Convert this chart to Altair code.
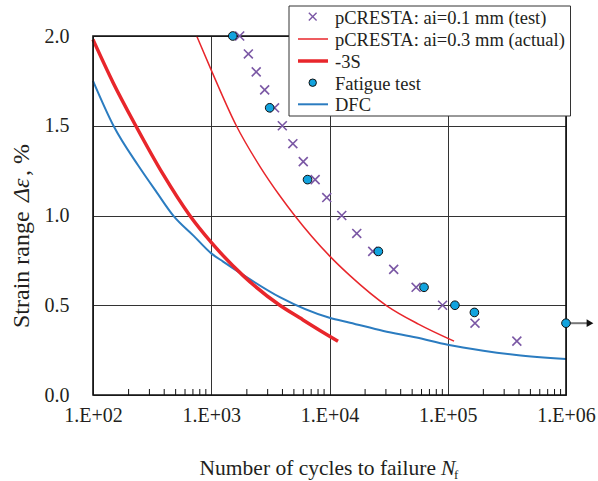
import altair as alt
import pandas as pd

# ---------------- data ----------------
test_n = [1740, 2060, 2400, 2830, 3430, 3990, 4900, 6000, 7560, 9480, 12700,
          17000, 23200, 34900, 54000, 90400, 170000, 384000]
test_e = [2.0, 1.9, 1.8, 1.7, 1.6, 1.5, 1.4, 1.3, 1.2, 1.1, 1.0,
          0.9, 0.8, 0.7, 0.6, 0.5, 0.4, 0.3]

actual_n = [753, 1000, 1630, 2600, 3800, 5070, 10000, 14900, 30500, 56500, 113000]
actual_e = [2.0, 1.81, 1.5, 1.27, 1.11, 1.0, 0.775, 0.665, 0.497, 0.395, 0.30]

s3_n = [100, 148, 230, 391, 658, 1000, 1860, 3800, 5600, 8300, 11800]
s3_e = [1.98, 1.74, 1.5, 1.23, 1.0, 0.85, 0.665, 0.5, 0.43, 0.36, 0.30]

fat_n = [1520, 3120, 6520, 25900, 63000, 115000, 168000, 1000000]
fat_e = [2.0, 1.6, 1.2, 0.8, 0.6, 0.5, 0.46, 0.4]

dfc_n = [100, 149, 242, 346, 479, 707, 1000, 1260, 1860, 3800, 10000, 14900,
         28600, 54400, 100000, 200000, 380000, 1000000]
dfc_e = [1.75, 1.5, 1.277, 1.129, 0.998, 0.888, 0.789, 0.743, 0.669, 0.545, 0.43,
         0.403, 0.357, 0.32, 0.28, 0.247, 0.223, 0.2]

runout_n = [1000000]
runout_e = [0.4]

x_major = [100, 1000, 10000, 100000, 1000000]
x_minor = [m * d for d in [100, 1000, 10000, 100000] for m in range(2, 10)]
y_ticks = [0.0, 0.5, 1.0, 1.5, 2.0]

legend_labels = ["pCRESTA: ai=0.1 mm (test)", "pCRESTA: ai=0.3 mm (actual)",
                 "-3S", "Fatigue test", "DFC"]

# ---------------- styling ----------------
W, H = 473, 359
FONT = "Liberation Serif, Times New Roman, serif"
TXT = "#231F20"
RED = "#E8262B"
BLUE = "#2B7CC0"
PURPLE = "#7B58A5"
CYAN = "#12A3DE"
CROSS = "M-1,-1L1,1M-1,1L1,-1"

xscale = alt.Scale(type="log", domain=[100, 1000000])
yscale = alt.Scale(domain=[0, 2])
xaxis = alt.Axis(values=x_major, grid=True, gridColor="#333333", gridWidth=1,
                 domain=False, ticks=False, tickSize=0, labelPadding=10,
                 labelFlush=False, labelOverlap=False,
                 labelExpr="'1.E+0' + round(log(datum.value) / LN10)",
                 labelFont=FONT, labelFontSize=20, labelColor=TXT, title="")
yaxis = alt.Axis(values=y_ticks, grid=True, gridColor="#333333", gridWidth=1,
                 domain=False, ticks=False, tickSize=0, labelPadding=24,
                 format=".1f", labelFont=FONT, labelFontSize=20, labelColor=TXT,
                 title="")

X = alt.X("n:Q", scale=xscale, axis=xaxis)
Y = alt.Y("e:Q", scale=yscale, axis=yaxis)


def df(n, e):
    return pd.DataFrame({"n": n, "e": e})


def line(n, e, color, width):
    return alt.Chart(df(n, e)).mark_line(color=color, strokeWidth=width,
                                         interpolate="monotone").encode(x=X, y=Y)


frame = alt.Chart(df([100], [0])).mark_rect(
    fill="transparent", stroke="#111", strokeWidth=1.6
).encode(x=alt.value(0), x2=alt.value(W), y=alt.value(0), y2=alt.value(H))

minor = alt.Chart(pd.DataFrame({"n": x_minor})).mark_rule(
    color="#111", strokeWidth=1
).encode(x=X, y=alt.value(H), y2=alt.value(H - 6))

l_actual = line(actual_n, actual_e, RED, 1.5)
l_s3 = line(s3_n, s3_e, RED, 3.5)
l_dfc = line(dfc_n, dfc_e, BLUE, 2)

crosses = alt.Chart(df(test_n, test_e)).mark_point(
    shape=CROSS, size=80, filled=False, color=PURPLE, strokeWidth=1.6, opacity=1
).encode(x=X, y=Y)

arrow_line = alt.Chart(df(runout_n, runout_e)).mark_rule(
    color="#777", strokeWidth=2
).encode(x=X, x2=alt.value(W + 21), y=Y)
arrow_head = alt.Chart(df(runout_n, runout_e)).mark_point(
    shape="triangle-right", size=60, filled=True, color="#111", opacity=1
).encode(x=alt.value(W + 24), y=Y)

circles = alt.Chart(df(fat_n, fat_e)).mark_point(
    shape="circle", size=75, filled=True, fill=CYAN, stroke="#111",
    strokeWidth=1, opacity=1
).encode(x=X, y=Y)

# ---------------- legend ----------------
LX0, LX1, LY0, LY1 = 196, 477.5, -30, 80
rows = [-19.3, 3, 25, 46.7, 68.3]
anchor = df([100], [0])

leg_box = alt.Chart(anchor).mark_rect(
    fill="white", stroke="#333", strokeWidth=1
).encode(x=alt.value(LX0), x2=alt.value(LX1), y=alt.value(LY0), y2=alt.value(LY1))

leg_layers = [leg_box]
leg_layers.append(alt.Chart(anchor).mark_point(
    shape=CROSS, size=60, filled=False, color=PURPLE, strokeWidth=1.4, opacity=1
).encode(x=alt.value(219.7), y=alt.value(rows[0])))
for r, (col, wdt) in zip([1, 2, 4], [(RED, 1.5), (RED, 3.5), (BLUE, 2)]):
    leg_layers.append(alt.Chart(anchor).mark_rule(color=col, strokeWidth=wdt).encode(
        x=alt.value(205), x2=alt.value(235), y=alt.value(rows[r])))
leg_layers.append(alt.Chart(anchor).mark_point(
    shape="circle", size=55, filled=True, fill=CYAN, stroke="#111",
    strokeWidth=1, opacity=1
).encode(x=alt.value(219.7), y=alt.value(rows[3])))
for lab, r in zip(legend_labels, rows):
    leg_layers.append(alt.Chart(anchor).mark_text(
        text=lab, font=FONT, fontSize=18.5, color=TXT, align="left", baseline="middle"
    ).encode(x=alt.value(242), y=alt.value(r + 1)))

# ---------------- titles ----------------
def txt(s, x, y, size=21, style="normal", align="left", angle=0, baseline="alphabetic"):
    return alt.Chart(anchor).mark_text(
        text=s, font=FONT, fontSize=size, fontStyle=style, color=TXT,
        align=align, angle=angle, baseline=baseline
    ).encode(x=alt.value(x), y=alt.value(y))

titles = [
    txt("Number of cycles to failure", 343, 439, size=21.5, align="right"),
    txt("N", 348, 439, size=21.5, style="italic"),
    txt("f", 361, 443, size=13),
    txt("Strain range", -64, 292, size=24, angle=270, align="left"),
    txt("\u0394\u03b5", -64, 166, size=24, angle=270, align="left", style="italic"),
    txt(", %", -64, 140, size=24, angle=270, align="left"),
]

chart = alt.layer(
    minor, l_dfc, l_actual, l_s3, frame, crosses, arrow_line, arrow_head, circles,
    *leg_layers, *titles
).properties(
    width=W, height=H,
    autosize=alt.AutoSizeParams(type="none"),
    padding={"left": 93, "top": 36, "right": 32, "bottom": 86},
).configure_view(strokeWidth=0)

chart.save("out.html", embed_options={"renderer": "svg", "actions": False})
